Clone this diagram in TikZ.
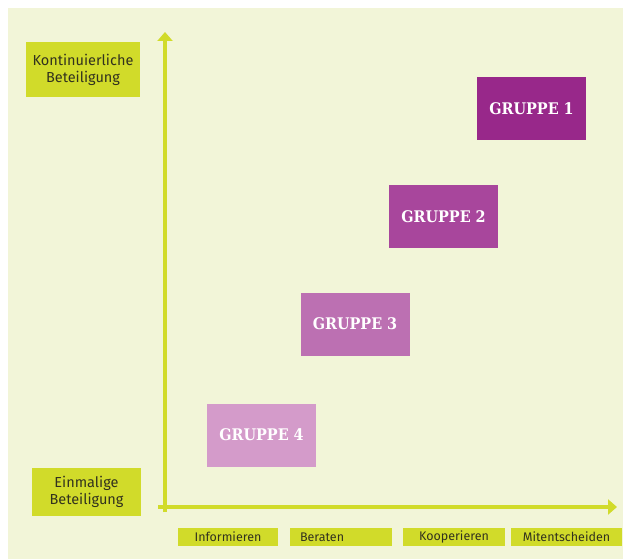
\documentclass[tikz,border=0pt]{standalone}
\usepackage{fontspec}
\setmainfont{DejaVu Serif}
\newfontfamily\labelfont{Fira Sans}
\usetikzlibrary{arrows.meta}
\definecolor{cream}{RGB}{242, 245, 216}
\definecolor{lime}{RGB}{209, 219, 42}
\definecolor{ink}{RGB}{50, 50, 30}
\definecolor{grpa}{RGB}{152, 40, 138}
\definecolor{grpb}{RGB}{168, 70, 156}
\definecolor{grpc}{RGB}{188, 112, 178}
\definecolor{grpd}{RGB}{212, 155, 202}

\tikzset{
  axislabel/.style={fill=lime, text=ink, inner sep=0pt, align=center,
    font=\labelfont\fontsize{14.5}{17}\selectfont},
  steplabel/.style={fill=lime, text=ink, inner sep=0pt, minimum height=18,
    font=\labelfont\fontsize{12.5}{14}\selectfont},
  gruppe/.style={text=white, inner sep=0pt, minimum width=109, minimum height=63,
    font=\fontspec{DejaVu Serif Condensed}\bfseries\fontsize{16}{18}\selectfont}
}

\begin{document}
\begin{tikzpicture}[x=1pt, y=-1pt]

  \fill[white] (0, 0) rectangle (623, 559);
  \fill[cream] (8, 8) rectangle (623, 559);

  % axes
  \coordinate (origin) at (165, 507);
  \coordinate (ybase) at (165, 512);
  \coordinate (ytop) at (165, 32);
  \coordinate (xbase) at (158, 507);
  \coordinate (xend) at (617, 507);
  \draw[lime, line width=4, -{Triangle[width=15, length=9]}] (ybase) -- (ytop);
  \draw[lime, line width=4, -{Triangle[width=15, length=9]}] (xbase) -- (xend);

  \node[axislabel, minimum width=114, minimum height=55] (dauer) at (83, 69.5)
    {Kontinuierliche\\Beteiligung};
  \node[axislabel, minimum width=109, minimum height=48] (einmal) at (86.5, 492)
    {Einmalige\\Beteiligung};

  \node[steplabel, minimum width=100] (info) at (228, 537) {Informieren};
  \node[steplabel, text width=82, inner xsep=10, align=left] (berat) at (341, 537) {Beraten};
  \node[steplabel, minimum width=102] (koop) at (454, 537) {Kooperieren};
  \node[steplabel, minimum width=111] (mitent) at (566.5, 537) {Mitentscheiden};

  \node[gruppe, fill=grpa] (g1) at (531.5, 108.5) {GRUPPE 1};
  \node[gruppe, fill=grpb] (g2) at (443.5, 216.5) {GRUPPE 2};
  \node[gruppe, fill=grpc] (g3) at (355, 324) {GRUPPE 3};
  \node[gruppe, fill=grpd] (g4) at (261.5, 435) {GRUPPE 4};

\end{tikzpicture}
\end{document}
